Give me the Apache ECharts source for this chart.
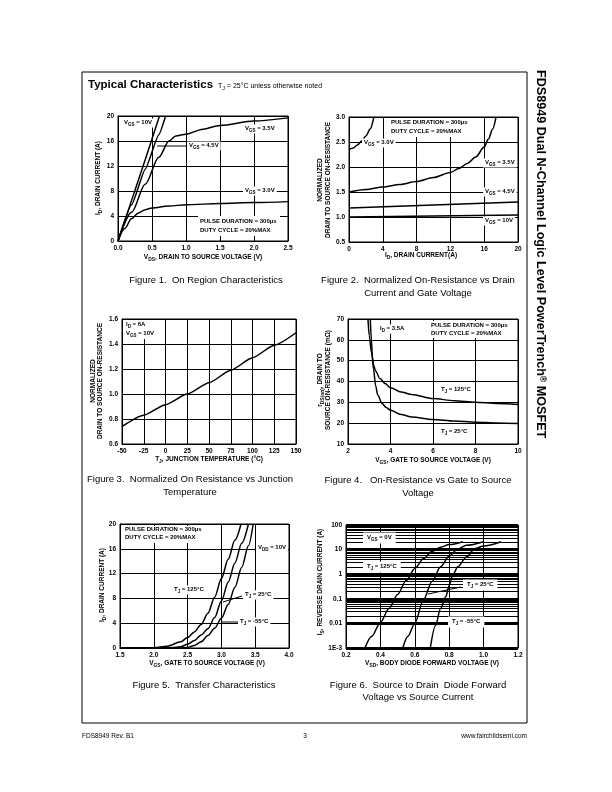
<!DOCTYPE html>
<html><head><meta charset="utf-8">
<script src="https://cdn.jsdelivr.net/npm/echarts@6/dist/echarts.min.js"></script>
<style>html,body{margin:0;padding:0;background:#fff}#c{width:612px;height:792px}</style>
</head><body><div id="c"></div>
<script>
// ---------- DATA ----------
// Figure 1: On region characteristics (VDS [V], ID [A])
const fig1_vgs10 = [[0,0],[0.2,6.5],[0.4,13.0],[0.61,20]];
const fig1_vgs45 = [[0,0],[0.2,5.8],[0.4,11.5],[0.6,17.0],[0.70,20]];
const fig1_vgs35 = [[0,0],[0.2,4.6],[0.4,9.1],[0.6,13.4],[0.75,16.0],[0.85,16.8],[1.0,17.1],[1.25,17.9],[1.5,18.5],[2.0,19.2],[2.5,19.7]];
const fig1_vgs30 = [[0,0],[0.1,2.0],[0.2,3.6],[0.3,4.5],[0.4,5.0],[0.5,5.3],[0.75,5.6],[1.0,5.8],[1.5,6.0],[2.0,6.15],[2.5,6.3]];
// Figure 2: normalized RDS(on) vs ID
const fig2_vgs30 = [[0,2.35],[0.5,2.38],[1,2.44],[1.5,2.52],[2,2.62],[2.5,2.76],[2.95,3.0]];
const fig2_vgs35 = [[0,1.5],[2,1.55],[4,1.6],[6,1.65],[8,1.71],[10,1.79],[12,1.89],[13,1.97],[14,2.07],[15,2.2],[16,2.4],[16.5,2.56],[17,2.76],[17.4,3.0]];
const fig2_vgs45 = [[0,1.18],[10,1.24],[20,1.30]];
const fig2_vgs10 = [[0,1.0],[10,1.02],[20,1.04]];
// Figure 3: normalized RDS(on) vs TJ
const fig3_temp = [-50,-25,0,25,50,75,100,125,150];
const fig3_rds  = [0.74,0.83,0.915,1.0,1.09,1.19,1.29,1.39,1.49];
// Figure 4: RDS(on) [mOhm] vs VGS
const fig4_t125 = [[2.94,70],[3.0,62],[3.1,54],[3.2,48],[3.3,45],[3.5,41.5],[3.75,39],[4,37],[4.5,35],[5,33.8],[6,31.8],[7,30.8],[8,30],[9,29.5],[10,29]];
const fig4_t25  = [[3.05,70],[3.1,60],[3.15,52],[3.2,46],[3.3,38],[3.4,33.5],[3.6,29.5],[3.8,27.5],[4,26.2],[4.5,24.2],[5,23],[6,21.8],[7,21],[8,20.5],[9,20.1],[10,19.8]];
// Figure 5: transfer characteristics (VGS [V], ID [A])
const fig5_t125 = [[1.5,0],[2.0,0.05],[2.2,0.3],[2.4,1.0],[2.5,1.7],[2.6,2.6],[2.7,3.8],[2.8,5.6],[2.9,8.2],[3.0,11.2],[3.1,14.3],[3.2,17.4],[3.29,20]];
const fig5_t25  = [[1.5,0],[2.2,0],[2.4,0.2],[2.5,0.6],[2.6,1.2],[2.7,2.1],[2.8,3.1],[2.9,4.9],[3.0,7.6],[3.1,10.6],[3.2,13.7],[3.3,16.9],[3.4,20]];
const fig5_tm55 = [[1.5,0],[2.4,0],[2.5,0.1],[2.6,0.4],[2.7,1.0],[2.8,2.0],[2.9,3.2],[3.0,4.8],[3.1,7.0],[3.2,9.8],[3.3,13.0],[3.4,16.5],[3.47,20]];
// Figure 6: body diode (VSD [V], IS [A])
const fig6_t125 = [[0.31,0.001],[0.35,0.003],[0.40,0.011],[0.45,0.04],[0.50,0.15],[0.55,0.55],[0.60,1.7],[0.65,4.2],[0.70,8.5],[0.75,12.5],[0.80,16],[0.88,21]];
const fig6_t25  = [[0.53,0.001],[0.56,0.003],[0.60,0.01],[0.65,0.09],[0.70,0.5],[0.75,2.0],[0.80,5.5],[0.85,10.5],[0.90,15],[1.0,21]];
const fig6_tm55 = [[0.69,0.001],[0.72,0.008],[0.75,0.04],[0.78,0.12],[0.80,0.35],[0.82,0.9],[0.85,2.0],[0.90,5.0],[0.95,11],[1.0,14],[1.1,21]];
const fig6_minor = [0.002,0.003,0.004,0.005,0.006,0.007,0.008,0.009,0.02,0.03,0.04,0.05,0.06,0.07,0.08,0.09,
  0.2,0.3,0.4,0.5,0.6,0.7,0.8,0.9,2,3,4,5,6,7,8,9,20,30,40,50,60,70,80,90];

// ---------- HELPERS ----------
const FF = '"Liberation Sans", Arial, sans-serif';
function richStyles(fs, bold){
  const w = bold ? 'bold' : 'normal';
  return {
    n:{fontSize:fs,fontWeight:w,fontFamily:FF,fill:'#000',verticalAlign:'top',lineHeight:fs*1.2},
    s:{fontSize:fs*0.75,fontWeight:w,fontFamily:FF,fill:'#000',verticalAlign:'top',lineHeight:fs*0.95,padding:[fs*0.45,0,0,0]},
    p:{fontSize:fs*0.7,fontWeight:w,fontFamily:FF,fill:'#000',verticalAlign:'top',lineHeight:fs*0.85}
  };
}
function toRich(str){
  return str.split(/(_\{[^}]*\}|\^\{[^}]*\})/).filter(s=>s.length).map(s=>{
    if(s[0]==='_') return '{s|'+s.slice(2,-1)+'}';
    if(s[0]==='^') return '{p|'+s.slice(2,-1)+'}';
    return '{n|'+s+'}';
  }).join('');
}
function T(x,y,str,o){
  o = o || {};
  const fs = o.fs || 6, bold = o.bold !== false;
  const st = {legacy:false,text:toRich(str),rich:richStyles(fs,bold),fontSize:fs,fontFamily:FF,
    fontWeight:bold?'bold':'normal',fill:'#000',align:o.align||'left',verticalAlign:'middle'};
  if(o.bg){ st.backgroundColor='#fff'; st.padding=o.pad||[1,2,1,2]; }
  return {type:'text',x:x,y:y,rotation:o.rot||0,z:100,silent:true,style:st};
}
function L(x1,y1,x2,y2){
  return {type:'line',z:100,silent:true,shape:{x1,y1,x2,y2},style:{stroke:'#000',lineWidth:1}};
}
function W(x,y,w,h){
  return {type:'rect',z:99,silent:true,shape:{x,y,width:w,height:h},style:{fill:'#fff'}};
}
const R = Math.PI/2;
const gl = {color:'#000',width:1};
function axis(gi,min,max,interval,fmt,extra){
  return Object.assign({gridIndex:gi,type:'value',min,max,interval,
    axisLine:{show:true,onZero:false,lineStyle:gl},axisTick:{show:false},
    splitLine:{show:true,lineStyle:gl},
    axisLabel:{fontSize:6.5,fontWeight:'bold',color:'#000',fontFamily:FF,margin:4,formatter:fmt}},extra||{});
}
const f1 = v=>v.toFixed(1), f0 = v=>String(v);
function line(gi,data,extra){
  return Object.assign({type:'line',xAxisIndex:gi,yAxisIndex:gi,data,showSymbol:false,symbol:'none',
    smooth:0.3,smoothMonotone:'x',clip:true,silent:true,lineStyle:{color:'#000',width:1.5},emphasis:{disabled:true}},extra||{});
}

const chart = echarts.init(document.getElementById('c'),null,{renderer:'canvas'});
const grids = [
  {left:118,top:116,width:170,height:125},
  {left:349,top:117,width:169,height:125},
  {left:122,top:319,width:174,height:125},
  {left:348,top:319,width:170,height:125},
  {left:120,top:524,width:169,height:124},
  {left:346,top:525,width:172,height:123}
].map(g=>Object.assign(g,{show:true,borderColor:'#000',borderWidth:1,containLabel:false}));

const xAxes = [
  axis(0,0,2.5,0.5,f1),
  axis(1,0,20,4,f0),
  axis(2,-50,150,25,f0),
  axis(3,2,10,2,f0),
  axis(4,1.5,4.0,0.5,f1),
  axis(5,0.2,1.2,0.2,f1)
];
const yAxes = [
  axis(0,0,20,4,f0),
  axis(1,0.5,3.0,0.5,f1),
  axis(2,0.6,1.6,0.2,f1),
  axis(3,10,70,10,f0),
  axis(4,0,20,4,f0),
  {gridIndex:5,type:'log',logBase:10,min:0.001,max:100,
    axisLine:{show:true,lineStyle:gl},axisTick:{show:false},
    splitLine:{show:true,lineStyle:{color:'#000',width:3}},
    axisLabel:{fontSize:6.5,fontWeight:'bold',color:'#000',fontFamily:FF,margin:4,
      formatter:v=>Math.abs(v-0.001)<1e-9?'1E-3':String(+v.toPrecision(3))}}
];

const series = [
  line(0,fig1_vgs10,{smooth:false}),line(0,fig1_vgs45,{smooth:0.15}),line(0,fig1_vgs35),line(0,fig1_vgs30),
  line(1,fig2_vgs30),line(1,fig2_vgs35),line(1,fig2_vgs45,{smooth:false}),line(1,fig2_vgs10,{smooth:false}),
  line(2,fig3_temp.map((t,i)=>[t,fig3_rds[i]]),{smooth:0.2}),
  line(3,fig4_t125),line(3,fig4_t25),
  line(4,fig5_t125),line(4,fig5_t25),line(4,fig5_tm55),
  line(5,fig6_t125,{markLine:{silent:true,symbol:['none','none'],animation:false,label:{show:false},
     lineStyle:{color:'#000',width:1,type:'solid'},emphasis:{disabled:true},
     data:fig6_minor.map(v=>({yAxis:v}))}}),
  line(5,fig6_t25),line(5,fig6_tm55)
];

const g = [];
// frame, title, side text, footer
g.push({type:'rect',z:101,silent:true,shape:{x:82,y:72,width:445,height:651},style:{fill:'none',stroke:'#000',lineWidth:1}});
g.push(T(88,86,'Typical Characteristics',{fs:11.5}));
g.push(T(218,87,'T_{J} = 25°C unless otherwise noted',{fs:7,bold:false}));
g.push(T(539,70,'FDS8949 Dual N-Channel Logic Level PowerTrench^{®} MOSFET',{fs:12.6,rot:-R}));
g.push(T(82,737,'FDS8949 Rev. B1',{fs:6.5,bold:false}));
g.push(T(305,737,'3',{fs:6.5,bold:false,align:'center'}));
g.push(T(527,737,'www.fairchildsemi.com',{fs:6.5,bold:false,align:'right'}));

// Fig 1
g.push(T(99,178,'I_{D}, DRAIN CURRENT (A)',{fs:6.5,rot:R,align:'center'}));
g.push(T(203,258,'V_{DS}, DRAIN TO SOURCE VOLTAGE (V)',{fs:6.5,align:'center'}));
g.push(T(122,123,'V_{GS} = 10V',{bg:true}));
g.push(T(243,129,'V_{GS} = 3.5V',{bg:true}));
g.push(T(187,146,'V_{GS} = 4.5V',{bg:true}));
g.push(L(157,146,187,146));
g.push(T(243,191,'V_{GS} = 3.0V',{bg:true}));
g.push(W(198,216,82,20));
g.push(T(200,221.5,'PULSE DURATION = 300µs'));
g.push(T(200,230.5,'DUTY CYCLE = 20%MAX'));
g.push(T(206,281,'Figure 1.  On Region Characteristics',{fs:9.5,bold:false,align:'center'}));

// Fig 2
g.push(T(321,180,'NORMALIZED',{fs:6.5,rot:R,align:'center'}));
g.push(T(329,180,'DRAIN TO SOURCE ON-RESISTANCE',{fs:6.5,rot:R,align:'center'}));
g.push(T(421,256,'I_{D}, DRAIN CURRENT(A)',{fs:6.5,align:'center'}));
g.push(W(388,118,78,19));
g.push(T(391,123,'PULSE DURATION = 300µs'));
g.push(T(391,132,'DUTY CYCLE = 20%MAX'));
g.push(T(362,143,'V_{GS} = 3.0V',{bg:true}));
g.push(T(483,163,'V_{GS} = 3.5V',{bg:true}));
g.push(T(483,192,'V_{GS} = 4.5V',{bg:true}));
g.push(T(483,221,'V_{GS} = 10V',{bg:true}));
g.push(T(418,281,'Figure 2.  Normalized On-Resistance vs Drain',{fs:9.5,bold:false,align:'center'}));
g.push(T(418,294,'Current and Gate Voltage',{fs:9.5,bold:false,align:'center'}));

// Fig 3
g.push(T(94,381,'NORMALIZED',{fs:6.5,rot:R,align:'center'}));
g.push(T(101,381,'DRAIN TO SOURCE ON-RESISTANCE',{fs:6.5,rot:R,align:'center'}));
g.push(T(209,460,'T_{J}, JUNCTION TEMPERATURE (°C)',{fs:6.5,align:'center'}));
g.push(W(124,320,36,19));
g.push(T(126,325,'I_{D} = 6A'));
g.push(T(126,334,'V_{GS} = 10V'));
g.push(T(190,480,'Figure 3.  Normalized On Resistance vs Junction',{fs:9.5,bold:false,align:'center'}));
g.push(T(190,493,'Temperature',{fs:9.5,bold:false,align:'center'}));

// Fig 4
g.push(T(321,380,'r_{DS(on)}, DRAIN TO',{fs:6.5,rot:R,align:'center'}));
g.push(T(329,380,'SOURCE ON-RESISTANCE (mΩ)',{fs:6.5,rot:R,align:'center'}));
g.push(T(433,461,'V_{GS}, GATE TO SOURCE VOLTAGE (V)',{fs:6.5,align:'center'}));
g.push(T(378,329,'I_{D} = 3.5A',{bg:true}));
g.push(W(427,321,88,17));
g.push(T(431,326,'PULSE DURATION = 300µs'));
g.push(T(431,334,'DUTY CYCLE = 20%MAX'));
g.push(T(439,390,'T_{J} = 125°C',{bg:true}));
g.push(T(439,432,'T_{J} = 25°C',{bg:true}));
g.push(T(418,481,'Figure 4.   On-Resistance vs Gate to Source',{fs:9.5,bold:false,align:'center'}));
g.push(T(418,494,'Voltage',{fs:9.5,bold:false,align:'center'}));

// Fig 5
g.push(T(103,585,'I_{D}, DRAIN CURRENT (A)',{fs:6.5,rot:R,align:'center'}));
g.push(T(207,664,'V_{GS}, GATE TO SOURCE VOLTAGE (V)',{fs:6.5,align:'center'}));
g.push(W(123,526,82,17));
g.push(T(125,530,'PULSE DURATION = 300µs'));
g.push(T(125,538,'DUTY CYCLE = 20%MAX'));
g.push(T(256,548,'V_{DD} = 10V',{bg:true}));
g.push(T(172,590,'T_{J} = 125°C',{bg:true}));
g.push(T(243,595,'T_{J} = 25°C',{bg:true}));
g.push(L(223,602,242,596));
g.push(T(238,622,'T_{J} = -55°C',{bg:true}));
g.push(L(222,622,238,622));
g.push(T(204,686,'Figure 5.  Transfer Characteristics',{fs:9.5,bold:false,align:'center'}));

// Fig 6
g.push(T(321,582,'I_{S}, REVERSE DRAIN CURRENT (A)',{fs:6.5,rot:R,align:'center'}));
g.push(T(432,664,'V_{SD}, BODY DIODE FORWARD VOLTAGE (V)',{fs:6.5,align:'center'}));
g.push(T(363,538,'V_{GS} = 0V',{bg:true,pad:[2,4,2,4]}));
g.push(T(363,567,'T_{J} = 125°C',{bg:true,pad:[2,4,2,4]}));
g.push(T(463,585,'T_{J} = 25°C',{bg:true,pad:[2,4,2,4]}));
g.push(L(428,594,461,587));
g.push(T(448,622,'T_{J} = -55°C',{bg:true,pad:[2,4,2,4]}));
g.push(T(418,686,'Figure 6.  Source to Drain  Diode Forward',{fs:9.5,bold:false,align:'center'}));
g.push(T(418,698,'Voltage vs Source Current',{fs:9.5,bold:false,align:'center'}));

chart.setOption({
  animation:false,
  backgroundColor:'#fff',
  textStyle:{fontFamily:FF},
  grid:grids, xAxis:xAxes, yAxis:yAxes, series:series,
  graphic:{elements:g}
});
</script>
</body></html>
